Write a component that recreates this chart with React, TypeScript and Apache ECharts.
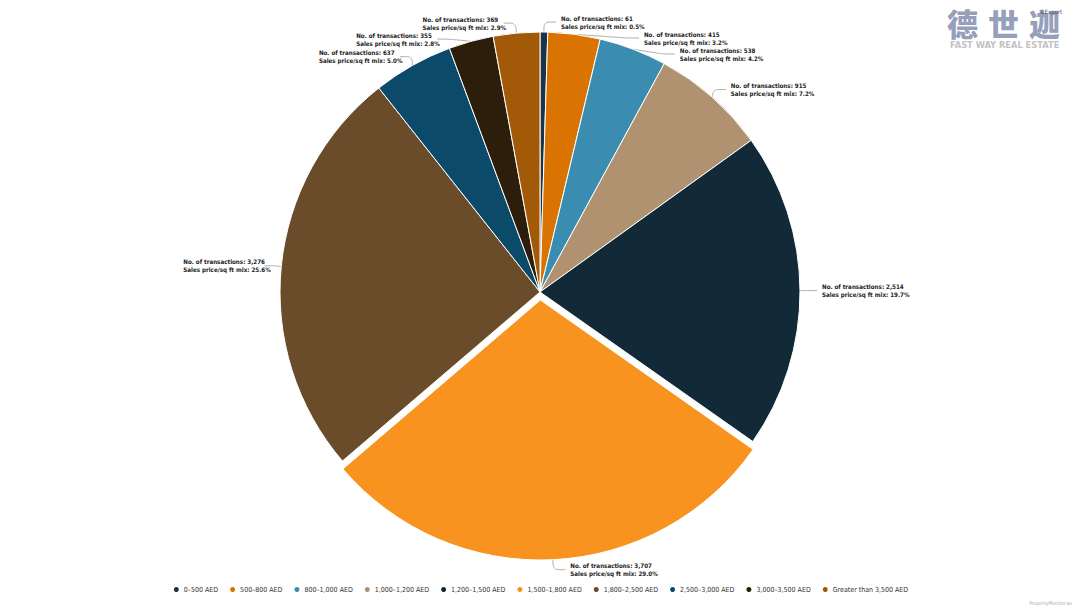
import React, { useEffect, useRef } from "react";
import * as echarts from "echarts";

const categories = [
  "0–500 AED",
  "500–800 AED",
  "800–1,000 AED",
  "1,000–1,200 AED",
  "1,200–1,500 AED",
  "1,500–1,800 AED",
  "1,800–2,500 AED",
  "2,500–3,000 AED",
  "3,000–3,500 AED",
  "Greater than 3,500 AED",
];
const transactions = [61, 415, 538, 915, 2514, 3707, 3276, 637, 355, 369];
const colors = [
  "#1c3447",
  "#d97302",
  "#3a8db1",
  "#b09270",
  "#122a38",
  "#f7931e",
  "#6a4b2a",
  "#0c4a6a",
  "#2d1d0b",
  "#a35a08",
];
const selectedCategory = "1,500–1,800 AED";
const logoChars = ["德", "世", "迦"];

const FONT = "'Liberation Sans Narrow', 'DejaVu Sans Condensed', 'Liberation Sans', sans-serif";

export default function App() {
  const ref = useRef<HTMLDivElement>(null);
  useEffect(() => {
    document.body.style.margin = "0";
    if (!ref.current) return;
    const chart = echarts.init(ref.current, null, { renderer: "svg" });
    const total = transactions.reduce((a, b) => a + b, 0);
    const data = categories.map((name, i) => ({
      name,
      value: transactions[i],
      selected: name === selectedCategory,
      itemStyle: { color: colors[i] },
    }));
    const logo = logoChars.map((ch, i) => ({
      type: "text",
      left: 947 + i * 41,
      top: 7,
      style: {
        text: ch,
        fontFamily: "'Noto Sans CJK SC', sans-serif",
        fontSize: 31,
        lineHeight: 31,
        fontWeight: 900,
        fill: "#8793b2",
        opacity: 0.9,
      },
    }));
    chart.setOption({
      animation: false,
      backgroundColor: "#ffffff",
      legend: {
        bottom: 9,
        left: "center",
        icon: "circle",
        itemWidth: 7,
        itemHeight: 7,
        itemGap: 10,
        textStyle: { fontFamily: FONT, fontSize: 7, color: "#333", padding: [0, 0, 0, -1] },
        data: categories,
      },
      graphic: [
        ...logo,
        {
          type: "text",
          left: 950,
          top: 41,
          style: {
            text: "FAST WAY REAL ESTATE",
            fontFamily: "'DejaVu Sans', sans-serif",
            fontSize: 8.3,
            fontWeight: "bold",
            fill: "#c2c2c2",
          },
        },
        {
          type: "text",
          left: 1040,
          top: 8,
          style: {
            text: "≡Export",
            fontFamily: FONT,
            fontSize: 6,
            fill: "#555",
          },
        },
        {
          type: "text",
          right: 8,
          bottom: 3,
          style: {
            text: "PropertyMonitor.ae",
            fontFamily: FONT,
            fontSize: 5,
            fill: "#aaa",
          },
        },
      ],
      series: [
        {
          type: "pie",
          center: [540, 292],
          radius: 260,
          startAngle: 90,
          clockwise: true,
          selectedMode: "single",
          selectedOffset: 8,
          avoidLabelOverlap: true,
          itemStyle: { borderColor: "#ffffff", borderWidth: 1 },
          label: {
            show: true,
            formatter: (p: any) =>
              `{a|No. of transactions: ${p.value.toLocaleString("en-US")}}\n{a|Sales price/sq ft mix: ${(
                (p.value / total) *
                100
              ).toFixed(1)}%}`,
            rich: {
              a: {
                fontFamily: FONT,
                fontSize: 6.2,
                fontWeight: "bold",
                color: "#222",
                lineHeight: 8,
                width: 76,
                align: "left",
              },
            },
          },
          labelLine: {
            show: true,
            length: 10,
            length2: 12,
            smooth: 0.3,
            lineStyle: { color: "#9a9a9a", width: 0.8 },
          },
          emphasis: { disabled: true },
          data,
        },
      ],
    });
    return () => chart.dispose();
  }, []);
  return <div ref={ref} style={{ width: 1080, height: 608 }} />;
}
